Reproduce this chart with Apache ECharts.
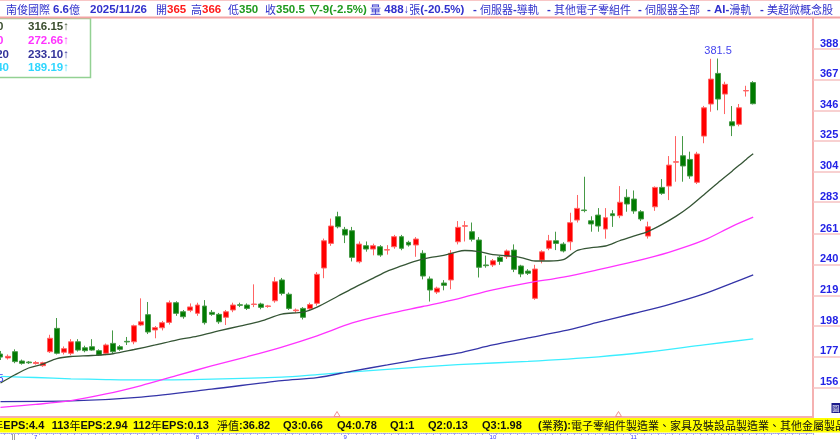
<!DOCTYPE html>
<html>
<head>
<meta charset="utf-8">
<script src="https://cdn.jsdelivr.net/npm/echarts@6.0.0/dist/echarts.min.js"></script>
<style>
  html, body { margin: 0; padding: 0; background: #fff; }
  #chart { width: 840px; height: 440px; }
</style>
</head>
<body>
<div id="chart"></div>
<script>
// trading days shown (Jun 24 .. Nov 26, 2025)
const dates = [
  '06/24','06/25','06/26','06/27','06/30',
  '07/01','07/02','07/03','07/04','07/07','07/08','07/09','07/10','07/11','07/14','07/15','07/16','07/17','07/18','07/21','07/22','07/23','07/24','07/25','07/28','07/29','07/30','07/31',
  '08/01','08/04','08/05','08/06','08/07','08/08','08/11','08/12','08/13','08/14','08/15','08/18','08/19','08/20','08/21','08/22','08/25','08/26','08/27','08/28','08/29',
  '09/01','09/02','09/03','09/04','09/05','09/08','09/09','09/10','09/11','09/12','09/15','09/16','09/17','09/18','09/19','09/22','09/23','09/24','09/25','09/26','09/30',
  '10/01','10/02','10/03','10/07','10/08','10/09','10/13','10/14','10/15','10/16','10/17','10/20','10/21','10/22','10/23','10/27','10/28','10/29','10/30','10/31',
  '11/03','11/04','11/05','11/06','11/07','11/10','11/11','11/12','11/13','11/14','11/17','11/18','11/19','11/20','11/21','11/24','11/25','11/26'
]

const opens = [
  178.8,176.1,180.4,174.0,173.3,172.3,170.8,180.4,196.4,180.0,
  179.3,187.2,183.1,183.8,181.1,179.3,186.1,183.8,187.5,187.2,
  198.7,205.8,195.3,196.8,200.5,214.0,207.8,208.8,206.7,211.7,
  207.4,206.0,204.0,209.0,212.6,212.4,212.8,213.1,211.4,215.3,
  229.6,219.8,208.5,210.1,209.8,213.6,237.8,254.7,273.0,264.3,
  263.4,242.1,253.1,250.8,252.4,250.1,252.4,259.3,255.4,253.6,
  247.9,230.3,221.3,227.5,229.6,255.8,266.5,262.7,257.0,239.9,
  239.9,245.2,245.6,250.1,239.2,235.7,217.0,243.2,251.3,256.5,
  254.2,255.8,270.7,277.6,270.2,274.1,264.5,275.0,273.7,286.3,
  285.1,276.4,259.7,279.8,293.1,294.0,310.4,314.8,312.3,296.6,
  328.3,350.3,371.3,357.1,338.1,336.4,359.3,365.0
]
const closes = [
  176.7,177.2,173.6,172.4,172.8,173.0,172.8,189.6,179.3,182.5,
  187.2,181.5,181.1,181.5,178.1,185.0,180.4,182.0,187.1,198.2,
  200.9,193.9,196.9,200.3,214.0,206.7,204.4,211.1,212.4,200.3,
  206.0,200.9,207.8,212.4,212.2,210.1,213.1,210.8,211.8,228.4,
  220.4,210.1,209.0,204.0,212.7,233.5,256.5,266.6,266.1,260.4,
  245.1,254.2,250.8,253.1,246.7,250.4,259.3,251.3,253.6,257.7,
  232.3,222.7,224.0,225.9,247.9,265.7,266.8,257.5,238.3,239.4,
  242.8,242.3,249.5,236.9,233.7,234.2,237.1,248.9,256.5,254.7,
  249.5,268.9,278.7,277.2,268.0,266.6,272.3,273.7,282.9,281.7,
  276.9,271.4,266.1,293.1,289.0,308.4,310.7,307.8,300.9,316.0,
  347.7,367.4,353.7,363.8,335.4,347.7,359.5,350.5
]
const lows = [
  174.7,175.0,172.5,171.5,172.0,171.5,170.0,179.5,178.5,178.5,
  178.0,180.5,180.0,181.0,177.5,178.0,179.5,181.0,185.0,185.5,
  198.0,192.5,189.6,195.0,199.0,205.0,203.0,207.5,205.0,199.0,
  205.0,199.5,198.7,207.5,211.0,209.0,211.0,209.5,210.5,214.0,
  219.0,209.0,207.0,202.5,208.5,212.0,230.8,253.0,265.0,254.9,
  242.3,241.0,249.0,246.5,245.5,247.0,251.0,250.0,252.5,245.5,
  230.0,214.8,220.0,222.5,223.2,254.0,256.0,256.0,231.3,238.0,
  238.5,240.0,244.0,235.0,231.5,233.0,216.0,241.0,250.0,250.1,
  248.5,250.0,269.0,276.0,262.7,262.7,257.9,266.0,272.0,276.4,
  275.0,270.0,258.0,277.0,288.0,284.4,297.0,297.0,299.0,295.4,
  323.4,345.0,346.0,343.4,328.3,335.0,355.4,350.0
]
const highs = [
  180.9,178.5,182.0,175.0,174.0,174.0,173.5,192.0,203.5,184.0,
  189.0,189.0,184.5,189.0,182.0,186.0,195.0,185.0,190.5,199.0,
  217.0,214.5,198.0,201.5,215.5,215.0,209.0,213.5,214.0,215.8,
  209.0,207.0,209.0,214.0,214.0,213.5,226.6,214.0,212.5,231.5,
  231.0,221.0,210.0,211.0,214.0,235.0,258.0,271.7,276.4,266.0,
  266.0,256.0,256.0,254.5,253.5,253.5,260.5,260.5,256.5,259.0,
  250.0,232.0,225.0,229.5,250.1,270.0,270.0,269.0,259.0,246.3,
  244.0,246.0,250.5,254.0,240.0,237.0,240.0,250.0,260.5,262.7,
  255.5,275.7,287.9,300.4,273.3,278.9,278.9,277.5,294.0,291.8,
  291.0,277.5,269.6,293.8,298.8,314.6,328.3,328.3,317.6,317.5,
  349.0,381.3,381.5,365.6,348.9,350.3,362.8,366.0
]

// moving averages: [day index, value]
const ma20 = [
  [0,158.9],[2,164.4],[4,169.2],[6,171.9],[8,175.7],[10,177.1],[13,177.8],[16,179.0],[19,181.9],
  [22,185.0],[25,188.4],[28,191.1],[31,194.6],[34,198.0],[37,201.4],[40,206.2],[43,207.6],[45,211.0],
  [48,218.6],[50,223.7],[53,230.9],[55,235.7],[57,239.2],[59,242.6],[61,245.0],[63,246.4],[65,249.1],
  [66,249.8],[68,249.1],[70,247.0],[72,246.2],[74,245.0],[76,242.6],[78,242.6],[80,243.5],[82,249.9],
  [84,251.8],[86,252.9],[88,256.5],[90,259.6],[92,262.8],[94,267.6],[96,273.2],[98,280.0],[100,288.1],
  [102,296.3],[104,304.2],[106,312.3],[107,316.15]
]
const ma60 = [
  [0,142.2],[5,144.2],[10,146.8],[15,151.4],[20,157.2],[25,164.0],[30,170.6],[35,176.9],[40,183.6],
  [45,191.3],[50,200.1],[55,206.2],[60,211.4],[65,216.7],[70,222.8],[75,227.6],[80,231.6],[85,236.7],
  [90,242.2],[95,248.6],[100,256.9],[104,266.4],[107,272.66]
]
const ma120 = [
  [0,146.2],[10,146.6],[20,149.3],[30,154.7],[40,160.6],[45,162.6],[50,167.1],[55,171.3],[60,175.6],
  [65,179.4],[70,185.0],[75,189.8],[80,194.6],[85,200.6],[90,206.6],[95,212.7],[100,220.0],[104,227.4],
  [107,233.1]
]
const ma240 = [
  [0,163.4],[5,162.7],[10,161.8],[15,161.3],[20,161.0],[30,161.6],[40,163.0],[45,164.7],[55,168.3],
  [65,171.5],[75,173.8],[85,176.9],[92,180.2],[100,185.1],[107,189.19]
]

const priceTicks = [156, 177, 198, 219, 240, 261, 283, 304, 325, 346, 367, 388]
const maNames = ['MA20', 'MA60', 'MA120', 'MA240']
const maValues = ['316.15', '272.66', '233.10', '189.19']
const maColors = ['#355535', '#ff33ff', '#3434a8', '#3ceeff']
const maTextColors = ['#3a4d2e', '#ff33ff', '#33339a', '#2fd6ff']

// empty slots on the right side of the plot
const padSlots = ['#1', '#2', '#3', '#4', '#5', '#6', '#7', '#8']
const categories = dates.concat(padSlots)
const candles = dates.map(function (d, i) { return [opens[i], closes[i], lows[i], highs[i]] })
const monthStart = categories.map(function (d, i) {
  return i > 0 && i < dates.length && d.slice(0, 2) !== dates[i - 1].slice(0, 2)
})

const LAT = 'Liberation Sans, Arial, sans-serif'
const CJK = '"Noto Sans CJK TC", "Noto Sans CJK SC", sans-serif'
const BLUE = '#3030cc', RED = '#ff1a1a', GREEN = '#1f9a1f'

function rich(color, size) {
  return {
    b: { fill: color || BLUE, fontFamily: LAT, fontWeight: 'bold', fontSize: size || 11.5 },
    c: { fill: color || BLUE, fontFamily: CJK, fontSize: 11 },
    r: { fill: RED, fontFamily: LAT, fontWeight: 'bold', fontSize: size || 11.5 },
    g: { fill: GREEN, fontFamily: LAT, fontWeight: 'bold', fontSize: size || 11.5 }
  }
}

function txt(x, y, text, r, align) {
  return {
    type: 'text', x: x, y: y, z: 20, silent: true,
    style: { text: text, rich: r, verticalAlign: 'middle', align: align || 'left' }
  }
}

function line(x1, y1, x2, y2, color, w) {
  return {
    type: 'line', z: 15, silent: true,
    shape: { x1: x1, y1: y1, x2: x2, y2: y2 },
    style: { stroke: color, lineWidth: w || 1 }
  }
}

const headRich = rich()
const barRich = rich('#111', 11)

let graphics = [
  // header
  line(0, 0.5, 840, 0.5, '#f8c6c6', 1),
  line(0, 17.5, 840, 17.5, '#f3a4a4', 2),
  txt(6, 10, '{c|南俊國際}', headRich),
  txt(53, 10, '{b|6.6}{c|億}', headRich),
  txt(90, 10, '{b|2025/11/26}', headRich),
  txt(156, 10, '{c|開}{r|365}', headRich),
  txt(191, 10, '{c|高}{r|366}', headRich),
  txt(228, 10, '{c|低}{g|350}', headRich),
  txt(265, 10, '{c|收}{g|350.5}', headRich),
  txt(310, 10, '{g|▽-9(-2.5%)}', headRich),
  txt(370, 10, '{c|量} {b|488↓}{c|張}{b|(-20.5%)}', headRich),
  txt(473, 10, '{b|- }{c|伺服器}{b|-}{c|導軌}', headRich),
  txt(547, 10, '{b|- }{c|其他電子零組件}', headRich),
  txt(638, 10, '{b|- }{c|伺服器全部}', headRich),
  txt(707, 10, '{b|- AI-}{c|滑軌}', headRich),
  txt(760, 10, '{b|- }{c|美超微概念股}', headRich),

  // MA legend box
  {
    type: 'rect', z: 12, silent: true,
    shape: { x: -2, y: 18.5, width: 92.5, height: 59 },
    style: { fill: '#fff', stroke: '#93d193', lineWidth: 1.5 }
  },

  // plot bottom border and yellow info bar
  line(0, 417, 814, 417, '#f4b0b0', 2),
  {
    type: 'rect', z: 12, silent: true,
    shape: { x: 0, y: 418, width: 840, height: 14.5 },
    style: { fill: '#ffff00' }
  },
  txt(-7.7, 425.5, '{c|年}{b|EPS:4.4}', barRich),
  txt(51.7, 425.5, '{b|113}{c|年}{b|EPS:2.94}', barRich),
  txt(133, 425.5, '{b|112}{c|年}{b|EPS:0.13}', barRich),
  txt(217, 425.5, '{c|淨值}{b|:36.82}', barRich),
  txt(283, 425.5, '{b|Q3:0.66}', barRich),
  txt(337, 425.5, '{b|Q4:0.78}', barRich),
  txt(390, 425.5, '{b|Q1:1}', barRich),
  txt(428, 425.5, '{b|Q2:0.13}', barRich),
  txt(482, 425.5, '{b|Q3:1.98}', barRich),
  txt(538, 425.5, '{b|(}{c|業務}{b|):}{c|電子零組件製造業、家具及裝設品製造業、其他金屬製品}', barRich),

  // small markers
  {
    type: 'polygon', z: 16, silent: true,
    shape: { points: [[334, 416.5], [337, 411.5], [340, 416.5]] },
    style: { fill: 'none', stroke: '#f09090', lineWidth: 1 }
  },
  {
    type: 'polygon', z: 16, silent: true,
    shape: { points: [[615.5, 416.5], [618.5, 411.5], [621.5, 416.5]] },
    style: { fill: 'none', stroke: '#f09090', lineWidth: 1 }
  },
  line(12.5, 434, 12.5, 440, '#a0a0a0', 1),
  line(14.5, 434, 14.5, 440, '#a0a0a0', 1),
  {
    type: 'rect', z: 16, silent: true,
    shape: { x: 831.5, y: 403, width: 8.5, height: 10 },
    style: { fill: '#1c1c8c' }
  },
  txt(835.8, 408, '{w|圖}', { w: { fill: '#fff', fontFamily: CJK, fontSize: 7 } }, 'center'),
  // low price label cut at the left edge
  txt(3.5, 378.5, '{p|162.5}', { p: { fill: '#4040ee', fontFamily: LAT, fontSize: 11 } }, 'right')
]

// legend rows
const rowY = [27, 41, 54.5, 68]
const nameX = [3.5, 3.5, 9, 9]
maNames.forEach(function (n, i) {
  const r = { t: { fill: maTextColors[i], fontFamily: LAT, fontWeight: 'bold', fontSize: 11.5 } }
  graphics.push(txt(nameX[i], rowY[i], '{t|' + n + '}', r, 'right'))
  graphics.push(txt(28, rowY[i], '{t|' + maValues[i] + '↑}', r))
})

const chart = echarts.init(document.getElementById('chart'), null, { renderer: 'canvas' })

function maSeries(data, color) {
  return {
    type: 'line', data: data, smooth: 0.3, symbol: 'none', silent: true, z: 3,
    lineStyle: { color: color, width: 1.3 }
  }
}

chart.setOption({
  animation: false,
  backgroundColor: '#fff',
  grid: { left: -3, right: 27, top: 18, bottom: 23, outerBoundsMode: 'none', containLabel: false },
  xAxis: {
    type: 'category',
    data: categories,
    boundaryGap: true,
    offset: 16,
    axisLine: { show: true, lineStyle: { color: '#9c9cf0', width: 1, type: 'dotted' } },
    axisTick: { show: true, interval: 0, length: 2, lineStyle: { color: '#a4a4f0' } },
    axisLabel: {
      interval: function (i) { return monthStart[i] },
      formatter: function (v) { return String(parseInt(v.slice(0, 2), 10)) },
      fontSize: 6, color: '#3c3cff', margin: 1
    },
    splitLine: { show: false }
  },
  yAxis: {
    type: 'value',
    position: 'right',
    min: 135.6,
    max: 409.3,
    axisLine: { show: true, lineStyle: { color: '#f5b1b1', width: 2 } },
    axisTick: {
      show: true, customValues: priceTicks, length: 27, inside: false,
      lineStyle: { color: '#f6c2c2', width: 1.5 }
    },
    axisLabel: {
      customValues: priceTicks, margin: 7, color: '#2323e6',
      fontFamily: LAT, fontWeight: 'bold', fontSize: 11, verticalAlign: 'bottom'
    },
    splitLine: { show: false }
  },
  series: [
    {
      type: 'candlestick',
      data: candles,
      barWidth: 5.4,
      z: 2,
      itemStyle: {
        color: '#ff0000', color0: '#007a00',
        borderColor: '#ff6464', borderColor0: '#469946', borderWidth: 1
      },
      markPoint: {
        symbol: 'circle', symbolSize: 1,
        itemStyle: { color: 'transparent' },
        label: {
          show: true, position: 'top', distance: 2,
          formatter: function (p) { return p.value },
          color: '#4444ee', fontSize: 11, fontFamily: LAT
        },
        data: [{ type: 'max', valueDim: 'highest' }]
      }
    },
    maSeries(ma240, maColors[3]),
    maSeries(ma120, maColors[2]),
    maSeries(ma60, maColors[1]),
    maSeries(ma20, maColors[0])
  ],
  graphic: graphics
})
</script>
</body>
</html>
